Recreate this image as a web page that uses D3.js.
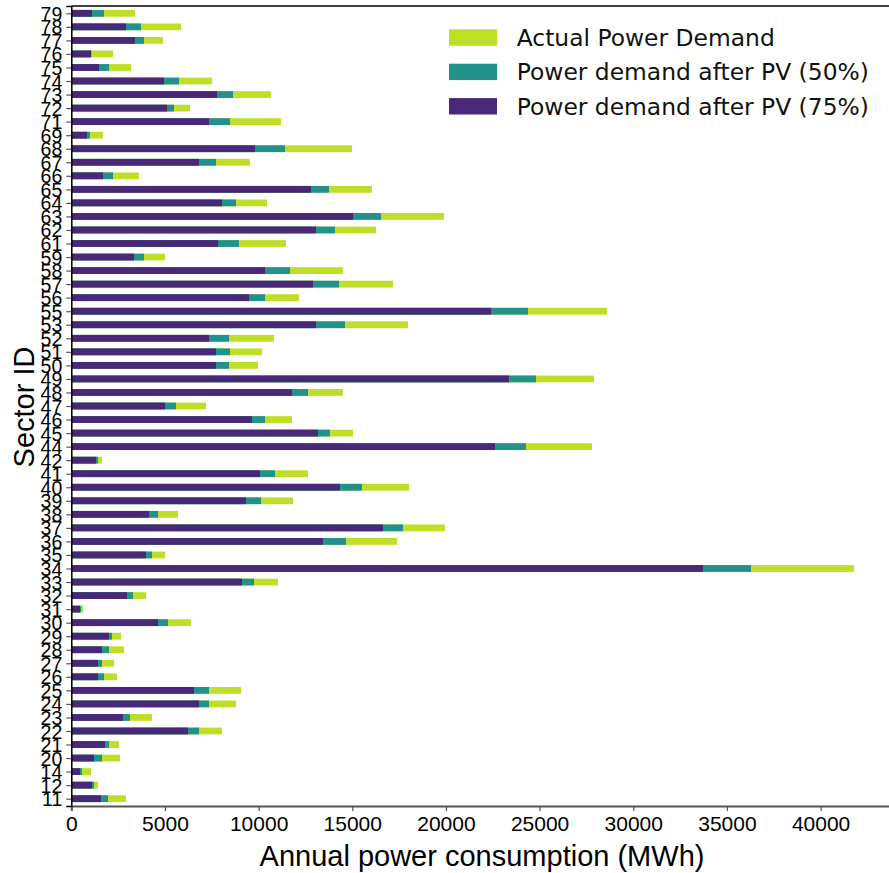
<!DOCTYPE html>
<html>
<head>
<meta charset="utf-8">
<script src="https://cdn.jsdelivr.net/npm/d3@7"></script>
<style>
  body { margin: 0; background: #fff; }
  svg { display: block; }
</style>
</head>
<body>
<svg id="chart"></svg>
<script>
// sector ids, bottom to top
const sectors = [11,12,14,20,21,22,23,24,25,26,27,28,29,30,31,32,33,34,35,36,37,38,39,40,41,42,44,45,46,47,48,49,50,51,52,53,55,56,57,58,59,61,62,63,64,65,66,67,68,69,71,72,73,74,75,76,77,78,79];

// annual demand (MWh)
const actualDemand = [2920,1425,1052,2600,2546,8044,4308,8791,9058,2440,2279,2813,2653,6389,624,3987,11034,41782,5002,17386,19949,5696,11834,18026,12635,1639,27795,15038,11780,7190,14503,27902,9966,10179,10820,17973,28596,12155,17172,14503,5002,11460,16265,19895,10446,16051,3614,9539,14984,1692,11194,6336,10660,7510,3187,2226,4895,5856,3400];
const demandPV50 = [1959,1212,571,1639,2012,6817,3134,7350,7350,1746,1639,2012,2173,5162,518,3294,9753,36284,4308,14664,17706,4628,10126,15518,10873,1425,24272,13809,10340,5589,12635,24806,8418,8471,8418,14610,24379,10340,14290,11674,3881,8951,14076,16532,8791,13756,2226,7724,11407,998,8471,5482,8631,5749,2012,1070,3881,3721,1746];
const demandPV75 = [1585,1105,464,1212,1799,6229,2760,6817,6550,1425,1425,1639,2012,4628,464,2973,9112,33722,3987,13436,16639,4148,9325,14344,10073,1319,22618,13169,9646,5002,11780,23365,7724,7724,7350,13062,22404,9485,12902,10340,3347,7830,13062,15038,8044,12795,1692,6817,9806,838,7350,5108,7777,4948,1479,1052,3400,2920,1105];

const xTicks = [0,5000,10000,15000,20000,25000,30000,35000,40000];
const seriesNames = ["Actual Power Demand", "Power demand after PV (50%)", "Power demand after PV (75%)"];
const seriesColors = ["#bddf26", "#21918c", "#482878"];

const width = 889, height = 873;
const plotLeft = 71.3, plotTop = 6, plotBottom = 806;

const svg = d3.select("#chart")
  .attr("width", width)
  .attr("height", height);

const x = d3.scaleLinear().domain([0, 43785]).range([plotLeft, 891.5]);
const y = d3.scaleLinear().domain([-0.54, sectors.length - 1 + 0.54]).range([plotBottom, plotTop]);
const barH = y(0) - y(0.5);

// draw the three series on top of each other (largest first)
const series = [actualDemand, demandPV50, demandPV75];
series.forEach((vals, k) => {
  svg.append("g")
    .selectAll("rect")
    .data(vals)
    .enter()
    .append("rect")
    .attr("x", x(0))
    .attr("y", (d, i) => y(i) - barH / 2)
    .attr("width", d => x(d) - x(0))
    .attr("height", barH)
    .attr("fill", seriesColors[k]);
});

// x axis
const xAxis = svg.append("g")
  .attr("transform", `translate(0,${plotBottom})`)
  .call(d3.axisBottom(x).tickValues(xTicks).tickFormat(d3.format("d")).tickSizeOuter(0).tickSize(5));
xAxis.select(".domain").attr("stroke", "#555").attr("stroke-width", 2);
xAxis.selectAll(".tick line").attr("stroke", "#555").attr("stroke-width", 1.2);
xAxis.selectAll("text")
  .attr("font-family", "Liberation Sans, Arial, sans-serif")
  .attr("font-size", 21)
  .attr("fill", "#000")
  .attr("dy", "0.82em");

// y axis
const yAxis = svg.append("g")
  .attr("transform", `translate(${plotLeft},0)`)
  .call(d3.axisLeft(y).tickValues(d3.range(sectors.length)).tickFormat(i => sectors[i]).tickSizeOuter(0).tickSize(5));
yAxis.select(".domain").attr("stroke", "#000").attr("stroke-width", 1.5);
yAxis.selectAll(".tick line").attr("stroke", "#555").attr("stroke-width", 1.2);
yAxis.selectAll("text")
  .attr("font-family", "Liberation Sans, Arial, sans-serif")
  .attr("font-size", 19.5)
  .attr("fill", "#000")
  .attr("x", -9)
  .attr("dy", "0.36em");

// top spine
svg.append("line")
  .attr("x1", plotLeft).attr("x2", width)
  .attr("y1", plotTop).attr("y2", plotTop)
  .attr("stroke", "#000").attr("stroke-width", 1.5);

// axis titles
svg.append("text")
  .attr("x", 482).attr("y", 866)
  .attr("text-anchor", "middle")
  .attr("font-family", "Liberation Sans, Arial, sans-serif")
  .attr("font-size", 29)
  .text("Annual power consumption (MWh)");

svg.append("text")
  .attr("transform", `translate(34,407) rotate(-90)`)
  .attr("text-anchor", "middle")
  .attr("font-family", "Liberation Sans, Arial, sans-serif")
  .attr("font-size", 29)
  .text("Sector ID");

// legend
const legend = svg.append("g").attr("transform", "translate(449,29.3)");
seriesNames.forEach((name, k) => {
  const row = legend.append("g").attr("transform", `translate(0,${k * 34.4})`);
  row.append("rect")
    .attr("width", 48).attr("height", 16.4)
    .attr("fill", seriesColors[k]);
  row.append("text")
    .attr("x", 67.7).attr("y", 16.4)
    .attr("font-family", "DejaVu Sans, sans-serif")
    .attr("font-size", 23.4)
    .attr("fill", "#111")
    .text(name);
});
</script>
</body>
</html>
